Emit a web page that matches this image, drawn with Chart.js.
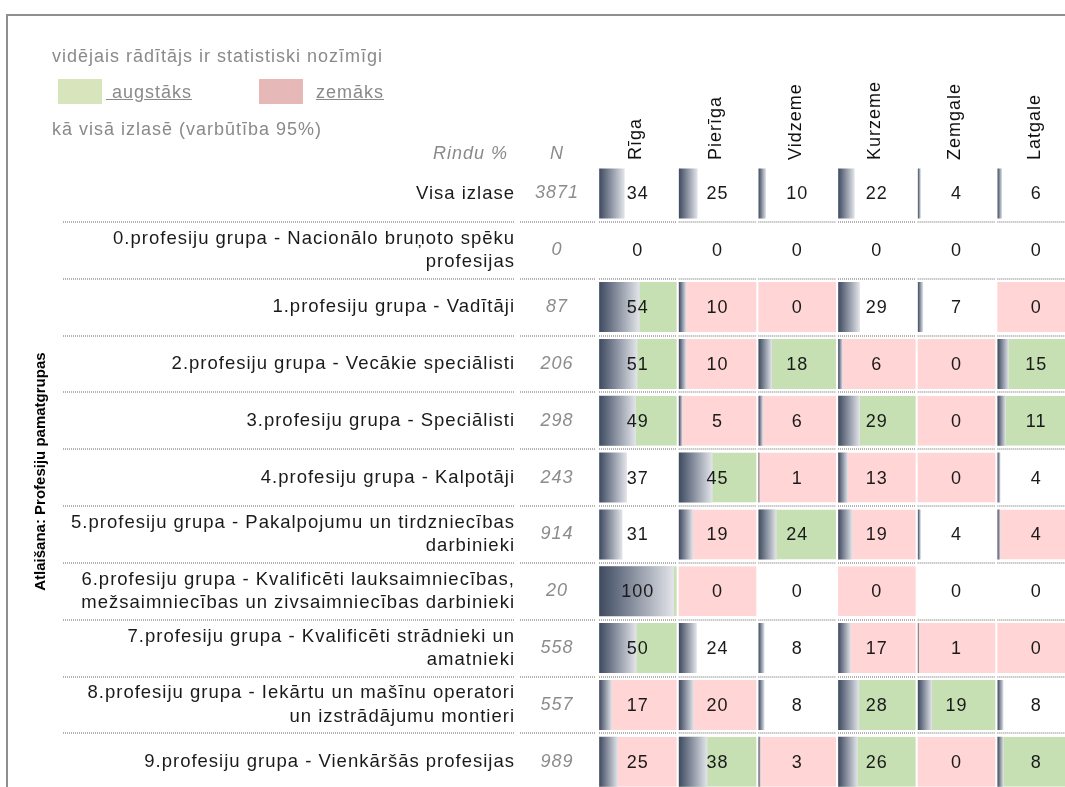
<!DOCTYPE html>
<html>
<head>
<meta charset="utf-8">
<title>Atlaišana: Profesiju pamatgrupas</title>
<script src="https://cdn.jsdelivr.net/npm/chart.js@4.4.1/dist/chart.umd.min.js"></script>
<style>
    html, body { margin: 0; padding: 0; background: #fff; overflow: hidden; }
    #wrap { position: relative; width: 1065px; height: 787px; overflow: hidden; }
    .frame { position: absolute; left: 6px; top: 14px; width: 1200px; height: 900px;
             border-top: 2px solid #8e8e8e; border-left: 2px solid #8e8e8e; }
    canvas { position: absolute; left: 0; top: 0; }
    .note { position: absolute; font: 18px 'Liberation Sans', Arial, sans-serif; letter-spacing: 1px;
            color: #8a8a8a; line-height: 20px; white-space: nowrap; }
    .note u { text-decoration-color: #8a8a8a; }
    .box { position: absolute; width: 44px; height: 25px; }
</style>
</head>
<body>
<div id="wrap">
    <div class="frame"></div>
    <canvas id="tableChart" width="1080" height="822" style="width:1080px;height:822px"></canvas>
    <div class="note" style="left:52px;top:46px">vidējais rādītājs ir statistiski nozīmīgi</div>
    <div class="box" style="left:58px;top:79px;background:#d8e4bc"></div>
    <div class="note" style="left:106px;top:82px"><u>&nbsp;augstāks</u></div>
    <div class="box" style="left:259px;top:79px;background:#e6b9b8"></div>
    <div class="note" style="left:316px;top:82px"><u>zemāks</u></div>
    <div class="note" style="left:52px;top:119px">kā visā izlasē (varbūtība 95%)</div>
    <div class="note" style="left:398px;top:143px;width:110px;text-align:right;font-style:italic">Rindu %</div>
    <div class="note" style="left:537px;top:143px;width:40px;text-align:center;font-style:italic">N</div>
</div>
<script>
// dati
const regions = ['Rīga', 'Pierīga', 'Vidzeme', 'Kurzeme', 'Zemgale', 'Latgale'];

const yTitle = 'Atlaišana: Profesiju pamatgrupas';

const rowLabels = [
    'Visa izlase',
    ['0.profesiju grupa - Nacionālo bruņoto spēku', 'profesijas'],
    '1.profesiju grupa - Vadītāji',
    '2.profesiju grupa - Vecākie speciālisti',
    '3.profesiju grupa - Speciālisti',
    '4.profesiju grupa - Kalpotāji',
    ['5.profesiju grupa - Pakalpojumu un tirdzniecības', 'darbinieki'],
    ['6.profesiju grupa - Kvalificēti lauksaimniecības,', 'mežsaimniecības un zivsaimniecības darbinieki'],
    ['7.profesiju grupa - Kvalificēti strādnieki un', 'amatnieki'],
    ['8.profesiju grupa - Iekārtu un mašīnu operatori', 'un izstrādājumu montieri'],
    '9.profesiju grupa - Vienkāršās profesijas'
];

const nValues = ['3871', '0', '87', '206', '298', '243', '914', '20', '558', '557', '989'];

// rindu %
const rigaVals    = [34, 0, 54, 51, 49, 37, 31, 100, 50, 17, 25];
const pierigaVals = [25, 0, 10, 10, 5, 45, 19, 0, 24, 20, 38];
const vidzemeVals = [10, 0, 0, 18, 6, 1, 24, 0, 8, 8, 3];
const kurzemeVals = [22, 0, 29, 6, 29, 13, 19, 0, 17, 28, 26];
const zemgaleVals = [4, 0, 7, 0, 0, 0, 4, 0, 1, 19, 0];
const latgaleVals = [6, 0, 0, 15, 11, 4, 4, 0, 0, 8, 8];

// nozīmīgums: 1 = augstāks, -1 = zemāks, 0 = nav
const rigaSig    = [0, 0, 1, 1, 1, 0, 0, 1, 1, -1, -1];
const pierigaSig = [0, 0, -1, -1, -1, 1, -1, -1, 0, -1, 1];
const vidzemeSig = [0, 0, -1, 1, -1, -1, 1, 0, 0, 0, -1];
const kurzemeSig = [0, 0, 0, -1, 1, -1, -1, -1, -1, 1, 1];
const zemgaleSig = [0, 0, 0, -1, -1, -1, 0, 0, -1, 1, -1];
const latgaleSig = [0, 0, -1, 1, 1, 0, -1, 0, -1, 0, 1];

const regionValues = [rigaVals, pierigaVals, vidzemeVals, kurzemeVals, zemgaleVals, latgaleVals];
const regionSig = [rigaSig, pierigaSig, vidzemeSig, kurzemeSig, zemgaleSig, latgaleSig];

const sigColors = { '1': '#c6e0b4', '-1': '#ffd5d5', '0': 'rgba(255,255,255,0)' };

Chart.defaults.font.family = "'Liberation Sans', Arial, sans-serif";
Chart.defaults.font.size = 18;

// katrs reģions aizņem 100 vienības uz x ass
const COL = 100;
const BAR_SCALE = 0.94;

// krāsains šūnas fons
const cellSets = regions.map((name, c) => ({
    label: name + ' fons',
    data: rowLabels.map(() => [c * COL, c * COL + COL]),
    backgroundColor: regionSig[c].map(s => sigColors[s]),
    borderColor: '#ffffff',
    borderWidth: { left: 1, right: 1, top: 0, bottom: 0 },
    borderSkipped: false,
    grouped: false,
    order: 2
}));

// gradienta stabiņi
const barSets = regions.map((name, c) => ({
    label: name,
    data: regionValues[c].map(v => [c * COL + 1.5, c * COL + 1.5 + v * BAR_SCALE]),
    backgroundColor(context) {
        const chart = context.chart;
        const raw = context.raw;
        if (!chart.chartArea || !raw) return '#5b667b';
        const x0 = chart.scales.x.getPixelForValue(raw[0]);
        const x1 = chart.scales.x.getPixelForValue(raw[1]);
        if (x1 - x0 < 1) return '#4a566c';
        const g = chart.ctx.createLinearGradient(x0, 0, x1, 0);
        g.addColorStop(0, '#3e4a61');
        g.addColorStop(1, '#e3e5ea');
        return g;
    },
    borderWidth: 0,
    borderSkipped: false,
    grouped: false,
    order: 1
}));

const letterSpacing = {
    id: 'letterSpacing',
    beforeDraw(chart) {
        chart.ctx.letterSpacing = '1px';
    }
};

// punktotās līnijas starp rindām
const rowLines = {
    id: 'rowLines',
    beforeDatasetsDraw(chart) {
        const { ctx, scales } = chart;
        const y = scales.y;
        const x = scales.x;
        const n = scales.yN;
        const segs = [[y.left + 38, y.right - 10], [n.left - 5, n.right - 2]];
        regions.forEach((r, c) => {
            segs.push([x.getPixelForValue(c * COL) + 1, x.getPixelForValue(c * COL + COL) - 1]);
        });
        ctx.save();
        ctx.strokeStyle = '#b2b2b2';
        ctx.lineWidth = 2;
        ctx.setLineDash([1, 1]);
        for (let i = 0; i < rowLabels.length - 1; i++) {
            const py = Math.round((y.getPixelForValue(i) + y.getPixelForValue(i + 1)) / 2);
            segs.forEach(([a, b]) => {
                ctx.beginPath();
                ctx.moveTo(a, py);
                ctx.lineTo(b, py);
                ctx.stroke();
            });
        }
        ctx.restore();
    }
};

// skaitļi šūnās
const cellValues = {
    id: 'cellValues',
    afterDatasetsDraw(chart) {
        const ctx = chart.ctx;
        ctx.save();
        ctx.font = "18px 'Liberation Sans', Arial, sans-serif";
        ctx.fillStyle = '#1a1a1a';
        ctx.textAlign = 'center';
        ctx.textBaseline = 'middle';
        regions.forEach((r, c) => {
            const meta = chart.getDatasetMeta(c);
            meta.data.forEach((cell, i) => {
                ctx.fillText(String(regionValues[c][i]), (cell.x + cell.base) / 2, cell.y + 1);
            });
        });
        ctx.restore();
    }
};

// ass virsraksts bez burtu atstarpēm
const axisTitle = {
    id: 'axisTitle',
    afterDraw(chart) {
        const { ctx, chartArea, scales } = chart;
        ctx.save();
        ctx.letterSpacing = '0px';
        ctx.translate(scales.y.left + 16, (chartArea.top + chartArea.bottom) / 2 - 6);
        ctx.rotate(-Math.PI / 2);
        ctx.font = "bold 15px 'Liberation Sans', Arial, sans-serif";
        ctx.fillStyle = '#000';
        ctx.textAlign = 'center';
        ctx.textBaseline = 'middle';
        ctx.fillText(yTitle, 0, 0);
        ctx.restore();
    }
};

const ctx = document.getElementById('tableChart').getContext('2d');
new Chart(ctx, {
    type: 'bar',
    data: {
        labels: rowLabels,
        datasets: [...cellSets, ...barSets]
    },
    options: {
        indexAxis: 'y',
        responsive: false,
        animation: false,
        categoryPercentage: 1,
        barPercentage: 0.88,
        layout: { padding: { left: 25, right: 4, top: 0, bottom: 0 } },
        plugins: {
            legend: { display: false },
            tooltip: { enabled: false }
        },
        scales: {
            x: { type: 'linear', min: 0, max: regions.length * COL, display: false },
            x2: {
                type: 'category',
                position: 'top',
                labels: regions,
                offset: true,
                grid: { display: false, drawTicks: false },
                border: { display: false },
                ticks: { minRotation: 90, maxRotation: 90, padding: 5, labelOffset: 20, color: '#111', autoSkip: false },
                afterFit(scale) { scale.height = 165; }
            },
            y: {
                type: 'category',
                position: 'left',
                weight: 1,
                offset: true,
                grid: { display: false, drawTicks: false },
                border: { display: false },
                ticks: { autoSkip: false, padding: 10, color: '#1a1a1a', font: { size: 18.5, lineHeight: 1.25 } },
                afterFit(scale) { scale.width = 500; }
            },
            yN: {
                type: 'category',
                position: 'left',
                weight: 0,
                labels: nValues,
                offset: true,
                grid: { display: false, drawTicks: false },
                border: { display: false },
                ticks: { autoSkip: false, crossAlign: 'center', padding: 21, color: '#8c8c8c', font: { size: 18, style: 'italic' } },
                afterFit(scale) { scale.width = 73; }
            }
        }
    },
    plugins: [letterSpacing, rowLines, cellValues, axisTitle]
});
</script>
</body>
</html>
